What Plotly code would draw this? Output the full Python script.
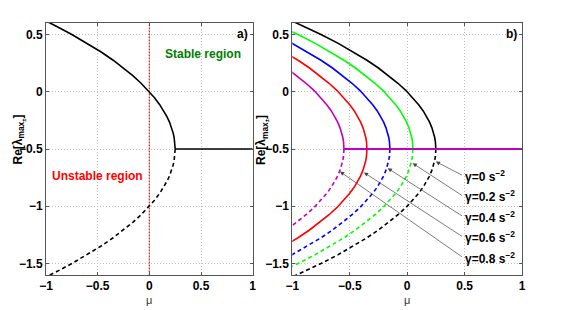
import plotly.graph_objects as go

# ---- data ----
# distance below the fold point (mu_fold - mu) and half-gap of the two real branches
fold_dist = [0, 0.001, 0.004, 0.01, 0.02, 0.035, 0.055, 0.08, 0.11, 0.15, 0.2, 0.26,
             0.33, 0.41, 0.5, 0.6, 0.72, 0.85, 1.0, 1.15, 1.3]
half_gap = [0, 0.032, 0.063, 0.1, 0.141, 0.187, 0.235, 0.283, 0.332, 0.387, 0.447, 0.51,
            0.574, 0.64, 0.707, 0.775, 0.849, 0.922, 1.0, 1.072, 1.14]
centre_re = -0.5
mu_end = 1.0

gamma_vals = [0, 0.2, 0.4, 0.6, 0.8]
fold_mu = [0.25, 0.05, -0.15, -0.35, -0.55]
colors = ["#000000", "#00ff00", "#0000ff", "#ff0000", "#c000c0"]
lower_dash = ["4px,3px", "4px,3px", "4px,3px", "solid", "4px,3px"]
gamma_labels = ["γ=0 s<sup>−2</sup>", "γ=0.2 s<sup>−2</sup>", "γ=0.4 s<sup>−2</sup>",
                "γ=0.6 s<sup>−2</sup>", "γ=0.8 s<sup>−2</sup>"]
arrow_tip_x = [0.25, 0.048, -0.169, -0.376, -0.585]
arrow_tip_y = [-0.61, -0.624, -0.668, -0.705, -0.697]
label_x = 0.49
label_y = [-0.735, -0.914, -1.092, -1.271, -1.45]

x_ticks = [-1, -0.5, 0, 0.5, 1]
y_ticks = [-1.5, -1, -0.5, 0, 0.5]

W, H = 588, 310
OFF = 8  # page body margin of the browser
TOP, BOT = 23, 275  # plot area on the page


def px(xp):
    return (xp - OFF) / W


def py(yp):
    return (BOT - yp) / (BOT - TOP)


fig = go.Figure()

# ---- panel a ----
f0 = fold_mu[0]
fig.add_trace(go.Scatter(x=[0, 0], y=[-1.6, 0.6], mode="lines",
                         line=dict(color="#ff2020", width=1.3, dash="1.5px,1.5px"),
                         xaxis="x", yaxis="y", showlegend=False))
fig.add_trace(go.Scatter(x=[f0 - d for d in fold_dist], y=[centre_re + h for h in half_gap],
                         mode="lines", line=dict(color="black", width=1.6),
                         xaxis="x", yaxis="y", showlegend=False))
fig.add_trace(go.Scatter(x=[f0 - d for d in fold_dist], y=[centre_re - h for h in half_gap],
                         mode="lines", line=dict(color="black", width=1.6, dash="4px,3px"),
                         xaxis="x", yaxis="y", showlegend=False))
fig.add_trace(go.Scatter(x=[f0, mu_end], y=[centre_re, centre_re],
                         mode="lines", line=dict(color="black", width=1.6),
                         xaxis="x", yaxis="y", showlegend=False))

# ---- panel b ----
for g, fm, c, ld in zip(gamma_vals, fold_mu, colors, lower_dash):
    xs = [fm - d for d in fold_dist]
    fig.add_trace(go.Scatter(x=xs, y=[centre_re + h for h in half_gap], mode="lines",
                             line=dict(color=c, width=1.6), xaxis="x2", yaxis="y2",
                             showlegend=False))
    fig.add_trace(go.Scatter(x=xs, y=[centre_re - h for h in half_gap], mode="lines",
                             line=dict(color=c, width=1.6, dash=ld), xaxis="x2", yaxis="y2",
                             showlegend=False))
for fm, c in zip(fold_mu, colors):
    fig.add_trace(go.Scatter(x=[fm, mu_end], y=[centre_re, centre_re], mode="lines",
                             line=dict(color=c, width=1.8), xaxis="x2", yaxis="y2",
                             showlegend=False))

axis_common = dict(range=[-1, 1], tickvals=x_ticks, ticks="inside", ticklen=3,
                   tickcolor="#555", showline=True, linecolor="#555", linewidth=1,
                   mirror="ticks", showgrid=True, gridcolor="#bbbbbb", griddash="1px,2px",
                   gridwidth=1, zeroline=False, automargin=False,
                   tickfont=dict(family="Liberation Sans", size=12, color="black",
                                 weight="bold"))
yaxis_common = dict(axis_common)
yaxis_common.update(range=[-1.6, 0.6], tickvals=y_ticks)

fig.update_layout(
    width=W, height=H, template="none",
    margin=dict(l=0, r=0, t=TOP - OFF, b=H - (BOT - OFF)),
    paper_bgcolor="white", plot_bgcolor="white",
    xaxis=dict(axis_common, domain=[px(46), px(252.7)], anchor="y"),
    yaxis=dict(yaxis_common, domain=[0, 1], anchor="x"),
    xaxis2=dict(axis_common, domain=[px(292.3), px(522)], anchor="y2"),
    yaxis2=dict(yaxis_common, domain=[0, 1], anchor="x2"),
)

font_title = dict(family="Liberation Sans", size=11, color="#333")
fig.add_annotation(text="μ", x=0, y=py(299.5), xref="x", yref="paper",
                   xanchor="center", yanchor="middle", showarrow=False, font=font_title)
fig.add_annotation(text="μ", x=0, y=py(299.5), xref="x2", yref="paper",
                   xanchor="center", yanchor="middle", showarrow=False, font=font_title)

lab_font = dict(family="Liberation Sans", size=12, color="black", weight="bold")
ylab = "Re[λ<sub>max<sub>±</sub></sub>]"
fig.add_annotation(text=ylab, xref="paper", yref="paper", x=px(8.5), y=py(140),
                   xanchor="left", yanchor="middle",
                   textangle=-90, showarrow=False, font=lab_font)
fig.add_annotation(text=ylab, xref="paper", yref="paper", x=px(262), y=py(140),
                   xanchor="center", yanchor="middle",
                   textangle=-90, showarrow=False, font=lab_font)

fig.add_annotation(text="Stable region", x=0.516, y=0.326, xref="x", yref="y",
                   showarrow=False,
                   font=dict(family="Liberation Sans", size=12, color="#008000", weight="bold"))
fig.add_annotation(text="Unstable region", x=-0.503, y=-0.735, xref="x", yref="y",
                   showarrow=False,
                   font=dict(family="Liberation Sans", size=12, color="#ff0000", weight="bold"))
fig.add_annotation(text="a)", x=0.97, y=0.5, xref="x", yref="y", xanchor="right",
                   showarrow=False, font=lab_font)
fig.add_annotation(text="b)", x=0.97, y=0.5, xref="x2", yref="y2", xanchor="right",
                   showarrow=False, font=lab_font)

for tx, ty, ly, lt in zip(arrow_tip_x, arrow_tip_y, label_y, gamma_labels):
    fig.add_annotation(x=tx, y=ty, ax=label_x, ay=ly, xref="x2", yref="y2",
                       axref="x2", ayref="y2", text="", showarrow=True,
                       arrowhead=2, arrowsize=1.2, arrowwidth=0.7, arrowcolor="#444")
    fig.add_annotation(text=lt, x=label_x, y=ly, xref="x2", yref="y2", xanchor="left",
                       showarrow=False, font=lab_font)

fig.write_html("out.html")
